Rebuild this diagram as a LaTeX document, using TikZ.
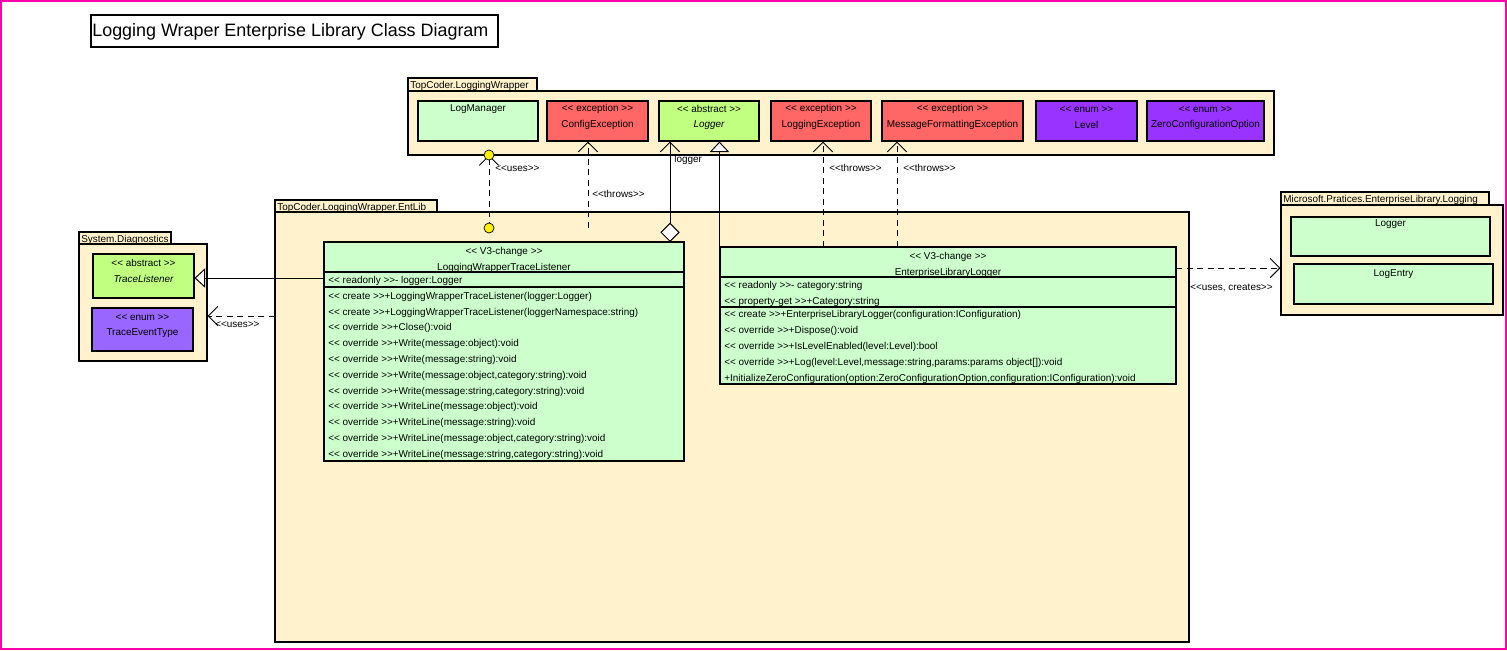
\documentclass[tikz,border=0pt]{standalone}
\usepackage{fontspec}
\setmainfont{Liberation Sans}
\usetikzlibrary{arrows.meta,calc,fit}
\definecolor{pkgfill}{RGB}{255,242,204}
\definecolor{clsfill}{RGB}{204,255,204}
\definecolor{absfill}{RGB}{192,255,128}
\definecolor{excfill}{RGB}{255,102,102}
\definecolor{enumfill}{RGB}{153,51,255}
\definecolor{enumlite}{RGB}{153,102,255}
\definecolor{framepink}{RGB}{255,0,170}
\newcommand\sopen{<\kern0pt<}
\newcommand\sclose{>\kern0pt>}
\tikzset{
  box/.style={draw, line width=0.6pt, inner sep=0pt},
  pkg/.style={box, fill=pkgfill},
  txt/.style={inner sep=0pt, yshift=-0.035cm, font=\fontsize{5.65}{6.5}\selectfont},
  dep/.style={line width=0.55pt, dash pattern=on 3.5pt off 2.5pt, -{Straight Barb[length=5.5pt,width=11pt]}},
  gen/.style={line width=0.55pt, -{Triangle[open,fill=white,length=6pt,width=11pt]}},
  dot/.style={circle, draw, line width=0.4pt, fill=yellow, inner sep=0pt, minimum size=0.2cm},
}
\begin{document}
\begin{tikzpicture}[x=0.02cm, y=-0.02cm]
\useasboundingbox (0,0) rectangle (1507,650);
\fill[white] (0,0) rectangle (1507,650);
\draw[framepink, line width=1.1pt] (1,1) rectangle (1506,649);

\node[box, fit={(91,15) (498,47)}] (title) {};
\node[anchor=west, inner sep=0pt, font=\fontsize{10.2}{12}\selectfont] (titletxt) at (92,32) {Logging Wraper Enterprise Library Class Diagram};

% packages
\foreach \kn/\xa/\ya/\xt/\yt/\xb/\yb/\kl in {lw/408/78/537/91/1274/155/TopCoder.LoggingWrapper,
    el/275/200/437/212/1189/642/TopCoder.LoggingWrapper.EntLib,
    sd/79/232/171/244/207/361/System.Diagnostics,
    ms/1281/192/1489/205/1503/315/Microsoft.Pratices.EnterpriseLibrary.Logging}{
  \node[pkg, fit={(\xa,\ya) (\xt,\yt)}] (\kn tab) {};
  \node[pkg, fit={(\xa,\yt) (\xb,\yb)}] (\kn) {};
  \node[txt, anchor=west] (\kn name) at ({\xa+2},{(\ya+\yt)/2}) {\kl};
}

% TopCoder.LoggingWrapper
\node[box, fill=clsfill, fit={(418,101) (538,141)}] (lgm) {};
\node[txt] (lgmname) at ($(lgm.north)+(0,7)$) {LogManager};
\foreach \kn/\xa/\xb/\kc/\ks/\kl in {cfg/547/648/excfill/exception/ConfigException,
    lge/771/871/excfill/exception/LoggingException,
    mfe/882/1023/excfill/exception/MessageFormattingException,
    lvl/1036/1137/enumfill/enum/Level,
    zco/1147/1264/enumfill/enum/ZeroConfigurationOption}{
  \node[box, fill=\kc, fit={(\xa,101) (\xb,141)}] (\kn) {};
  \node[txt] (\kn st) at ($(\kn.north)+(0,7)$) {\sopen{} \ks{} \sclose};
  \node[txt] (\kn name) at ($(\kn.north)+(0,23)$) {\kl};
}
\node[box, fill=absfill, fit={(659,101) (759,141)}] (lgr) {};
\node[txt] (lgrst) at ($(lgr.north)+(0,7)$) {\sopen{} abstract \sclose};
\node[txt] (lgrname) at ($(lgr.north)+(0,23)$) {\itshape Logger};

% System.Diagnostics
\node[box, fill=absfill, fit={(93,254) (194,298)}] (trl) {};
\node[txt] (trlst) at ($(trl.north)+(0,8)$) {\sopen{} abstract \sclose};
\node[txt] (trlname) at ($(trl.north)+(0,24)$) {\itshape TraceListener};
\node[box, fill=enumlite, fit={(92,308) (193,351)}] (tet) {};
\node[txt] (tetst) at ($(tet.north)+(0,8)$) {\sopen{} enum \sclose};
\node[txt] (tetname) at ($(tet.north)+(0,24)$) {TraceEventType};

% Microsoft.Pratices.EnterpriseLibrary.Logging
\node[box, fill=clsfill, fit={(1291,217) (1490,256)}] (msl) {};
\node[txt] (mslname) at ($(msl.north)+(0,6)$) {Logger};
\node[box, fill=clsfill, fit={(1294,264) (1493,304)}] (mse) {};
\node[txt] (msename) at ($(mse.north)+(0,9)$) {LogEntry};

% LoggingWrapperTraceListener
\node[box, fill=clsfill, fit={(324,242) (684,461)}] (lst) {};
\draw[line width=0.6pt] (324,272) -- (684,272) (324,287) -- (684,287);
\node[txt] (lstst) at (504,250) {\sopen{} V3-change \sclose};
\node[txt] (lstname) at (504,266) {LoggingWrapperTraceListener};
\node[txt, anchor=west] (lsta1) at (328,279) {\sopen{} readonly \sclose- logger:Logger};
\foreach \km [count=\i] in {{\sopen{} create \sclose+LoggingWrapperTraceListener(logger:Logger)},
    {\sopen{} create \sclose+LoggingWrapperTraceListener(loggerNamespace:string)},
    {\sopen{} override \sclose+Close():void},
    {\sopen{} override \sclose+Write(message:object):void},
    {\sopen{} override \sclose+Write(message:string):void},
    {\sopen{} override \sclose+Write(message:object,category:string):void},
    {\sopen{} override \sclose+Write(message:string,category:string):void},
    {\sopen{} override \sclose+WriteLine(message:object):void},
    {\sopen{} override \sclose+WriteLine(message:string):void},
    {\sopen{} override \sclose+WriteLine(message:object,category:string):void},
    {\sopen{} override \sclose+WriteLine(message:string,category:string):void}}
  \node[txt, anchor=west] (lstm\i) at (328,{295+15.8*(\i-1)}) {\km};

% EnterpriseLibraryLogger
\node[box, fill=clsfill, fit={(720,247) (1176,384)}] (ell) {};
\draw[line width=0.6pt] (720,277) -- (1176,277) (720,307) -- (1176,307);
\node[txt] (ellst) at (948,255) {\sopen{} V3-change \sclose};
\node[txt] (ellname) at (948,271) {EnterpriseLibraryLogger};
\node[txt, anchor=west] (ella1) at (724,284) {\sopen{} readonly \sclose- category:string};
\node[txt, anchor=west] (ella2) at (724,300) {\sopen{} property-get \sclose+Category:string};
\foreach \km [count=\i] in {{\sopen{} create \sclose+EnterpriseLibraryLogger(configuration:IConfiguration)},
    {\sopen{} override \sclose+Dispose():void},
    {\sopen{} override \sclose+IsLevelEnabled(level:Level):bool},
    {\sopen{} override \sclose+Log(level:Level,message:string,params:params object[]):void},
    {+InitializeZeroConfiguration(option:ZeroConfigurationOption,configuration:IConfiguration):void}}
  \node[txt, anchor=west] (ellm\i) at (724,{313+16*(\i-1)}) {\km};

% connectors
\coordinate (usa) at (489,155);
\coordinate (usb) at (489,228);
\draw[dep] (usb) -- (usa);
\node[dot] (dota) at (usa) {};
\node[dot] (dotb) at (usb) {};
\node[txt, anchor=west] (usalbl) at (495,167) {\sopen uses\sclose};

\coordinate (thra) at (588,228);
\draw[dep] (thra) -- (thra |- cfg.south);
\node[txt, anchor=west] (thralbl) at (592,192) {\sopen throws\sclose};

\coordinate (agg) at (670,242);
\draw[line width=0.55pt, {Diamond[open,fill=white,length=11pt,width=11pt]}-{Straight Barb[length=5.5pt,width=11pt]}] (agg) -- (agg |- lgr.south);
\node[txt, anchor=west] (agglbl) at (674,158) {logger};

\draw[gen] (ell.north west) -- (ell.north west |- lgr.south);

\coordinate (thrb) at (823,247);
\draw[dep] (thrb) -- (thrb |- lge.south);
\node[txt, anchor=west] (thrblbl) at (829,166) {\sopen throws\sclose};
\coordinate (thrc) at (897,247);
\draw[dep] (thrc) -- (thrc |- mfe.south);
\node[txt, anchor=west] (thrclbl) at (903,166) {\sopen throws\sclose};

\coordinate (gtl) at (324,278);
\draw[gen] (gtl) -- (gtl -| trl.east);

\coordinate (ussd) at (275,316);
\draw[dep] (ussd) -- (ussd -| sd.east);
\node[txt, anchor=west] (ussdlbl) at (215,323) {\sopen uses\sclose};

\coordinate (usms) at (1176,268);
\draw[dep] (usms) -- (usms -| ms.west);
\node[txt, anchor=west] (usmslbl) at (1190,286) {\sopen uses, creates\sclose};
\end{tikzpicture}
\end{document}
